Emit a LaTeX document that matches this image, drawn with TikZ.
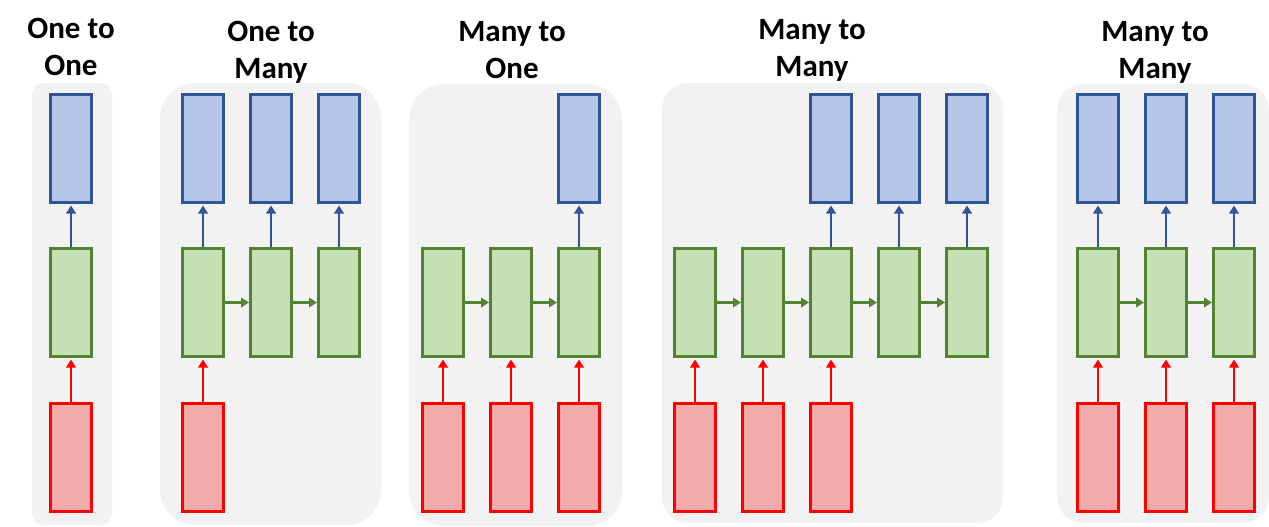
\documentclass[tikz,border=0pt]{standalone}
\usepackage{fontspec}
\newfontfamily\titlefont{Carlito}
\usetikzlibrary{arrows.meta}
\definecolor{bfill}{HTML}{B4C7E7}
\definecolor{bline}{HTML}{2F5597}
\definecolor{gfill}{HTML}{C5E0B4}
\definecolor{gline}{HTML}{548235}
\definecolor{rfill}{HTML}{F1ABAB}
\definecolor{rline}{HTML}{FF0000}
\definecolor{panelgray}{HTML}{F2F2F2}
\tikzset{
  cell/.style={rectangle, minimum width=41pt, minimum height=108pt, inner sep=0pt, line width=3pt},
  outbox/.style={cell, fill=bfill, draw=bline},
  hidbox/.style={cell, fill=gfill, draw=gline},
  inbox/.style={cell, fill=rfill, draw=rline},
  panel/.style={fill=panelgray, draw=none},
  conn/.style={line width=2.8pt, -{Triangle[width=9.5pt,length=8pt]}, shorten >=1.5pt},
  upb/.style={conn, draw=bline},
  upr/.style={conn, draw=rline},
  rg/.style={conn, draw=gline, shorten >=0pt},
  title/.style={font=\titlefont\bfseries\fontsize{31}{37}\selectfont, align=center, anchor=base, inner sep=0pt}
}
\begin{document}
\begin{tikzpicture}[x=1pt,y=-1pt]
\useasboundingbox (0,0) rectangle (1269,527);
% panels
\fill[panel, rounded corners=12pt] (32,83) rectangle (112,525);
\fill[panel, rounded corners=35pt] (160,83) rectangle (381,525);
\fill[panel, rounded corners=35pt] (409,84) rectangle (622,526);
\fill[panel, rounded corners=26pt] (662,83) rectangle (1003,523);
\fill[panel, rounded corners=26pt] (1057,84) rectangle (1269,523);
% titles
\node[title] (t1) at (71,76) {One to\\One};
\node[title] (t2) at (271,78) {One to\\Many};
\node[title] (t3) at (512,78) {Many to\\One};
\node[title] (t4) at (812,77) {Many to\\Many};
\node[title] (t5) at (1155,78) {Many to\\Many};
% panel 1
\node[outbox] (a1o) at (71,148.5) {};
\node[hidbox] (a1h) at (71,302.5) {};
\node[inbox]  (a1i) at (71,457.5) {};
\draw[upr] (a1i) -- (a1h);
\draw[upb] (a1h) -- (a1o);
% panel 2
\foreach \n/\x in {1/203,2/271,3/339}{
  \node[outbox] (b\n o) at (\x,148.5) {};
  \node[hidbox] (b\n h) at (\x,302.5) {};
}
\node[inbox] (b1i) at (203,457.5) {};
\draw[upr] (b1i) -- (b1h);
\foreach \n in {1,2,3}{\draw[upb] (b\n h) -- (b\n o);}
\draw[rg] (b1h) -- (b2h);
\draw[rg] (b2h) -- (b3h);
% panel 3
\foreach \n/\x in {1/443,2/511,3/579}{
  \node[hidbox] (c\n h) at (\x,302.5) {};
  \node[inbox] (c\n i) at (\x,457.5) {};
  \draw[upr] (c\n i) -- (c\n h);
}
\node[outbox] (c3o) at (579,148.5) {};
\draw[upb] (c3h) -- (c3o);
\draw[rg] (c1h) -- (c2h);
\draw[rg] (c2h) -- (c3h);
% panel 4
\foreach \n/\x in {1/695,2/763,3/831,4/899,5/967}{
  \node[hidbox] (d\n h) at (\x,302.5) {};
}
\foreach \n in {1,2,3}{
  \node[inbox] (d\n i) at (d\n h |- 0,457.5) {};
  \draw[upr] (d\n i) -- (d\n h);
}
\foreach \n in {3,4,5}{
  \node[outbox] (d\n o) at (d\n h |- 0,148.5) {};
  \draw[upb] (d\n h) -- (d\n o);
}
\draw[rg] (d1h) -- (d2h);
\draw[rg] (d2h) -- (d3h);
\draw[rg] (d3h) -- (d4h);
\draw[rg] (d4h) -- (d5h);
% panel 5
\foreach \n/\x in {1/1098,2/1166,3/1234}{
  \node[outbox] (e\n o) at (\x,148.5) {};
  \node[hidbox] (e\n h) at (\x,302.5) {};
  \node[inbox] (e\n i) at (\x,457.5) {};
  \draw[upr] (e\n i) -- (e\n h);
  \draw[upb] (e\n h) -- (e\n o);
}
\draw[rg] (e1h) -- (e2h);
\draw[rg] (e2h) -- (e3h);
\end{tikzpicture}
\end{document}
